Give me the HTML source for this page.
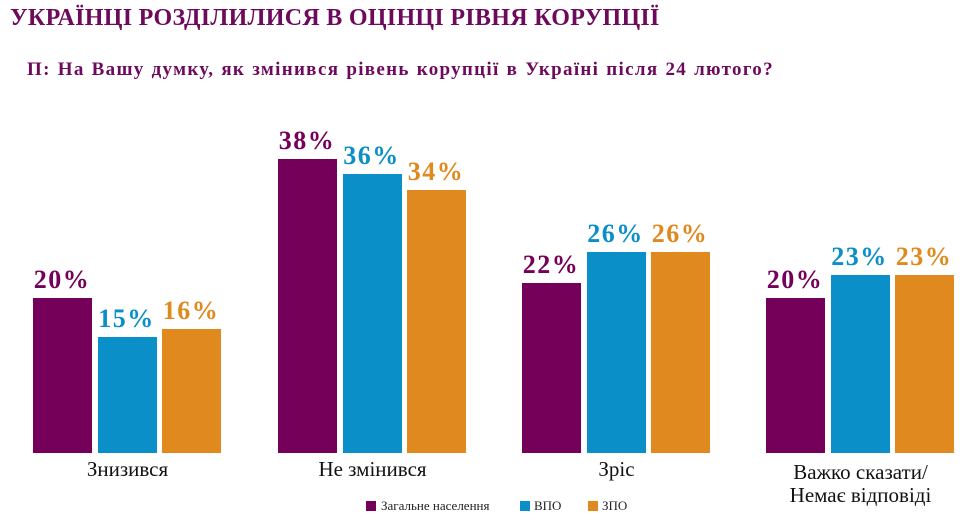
<!DOCTYPE html>
<html><head><meta charset="utf-8"><style>
body{margin:0;width:972px;height:528px;background:#fff;position:relative;overflow:hidden;font-family:"Liberation Serif",serif}
.t{position:absolute;white-space:nowrap}
.bar{position:absolute}
.p{position:absolute;font-weight:bold;font-size:26px;text-align:center;width:80px;margin-left:-11px;letter-spacing:1.5px}
.c{position:absolute;font-size:21px;text-align:center;color:#111}
.lg{position:absolute;top:501px;width:10px;height:10px}
.lt{position:absolute;top:498px;font-size:13px;color:#222}
</style></head><body>
<div class="t" style="left:10px;top:5px;font-size:24px;font-weight:bold;color:#6e0a5c;letter-spacing:0.3px">УКРАЇНЦІ РОЗДІЛИЛИСЯ В ОЦІНЦІ РІВНЯ КОРУПЦІЇ</div>
<div class="t" style="left:27px;top:59px;font-size:19px;font-weight:bold;color:#6e0a5c;letter-spacing:1.3px;word-spacing:1px">П: На Вашу думку, як змінився рівень корупції в Україні після 24 лютого?</div>
<div id="g"></div>
<script>
var cols=['#74005a','#0a8fc8','#e0891f'];
var data=[[33,[20,15,16]],[278,[38,36,34]],[522,[22,26,26]],[766,[20,23,23]]];
var h='';var base=453,k=7.75;
data.forEach(function(d){d[1].forEach(function(v,i){var x=d[0]+i*64.5,top=base-v*k;
h+='<div class="bar" style="left:'+x+'px;top:'+top+'px;width:59px;height:'+(base-top)+'px;background:'+cols[i]+'"></div>';
h+='<div class="p" style="left:'+x+'px;top:'+(top-33)+'px;color:'+cols[i]+'">'+v+'%</div>';});});
document.getElementById('g').innerHTML=h;
</script>
<div class="c" style="left:33px;width:189px;top:457px">Знизився</div>
<div class="c" style="left:278px;width:189px;top:457px">Не змінився</div>
<div class="c" style="left:522px;width:189px;top:457px">Зріс</div>
<div class="c" style="left:756px;width:209px;top:461px;line-height:23px">Важко сказати/<br>Немає відповіді</div>
<div class="lg" style="left:366px;background:#74005a"></div><div class="lt" style="left:381px">Загальне населення</div>
<div class="lg" style="left:520px;background:#0a8fc8"></div><div class="lt" style="left:534px">ВПО</div>
<div class="lg" style="left:588px;background:#e0891f"></div><div class="lt" style="left:602px">ЗПО</div>
</body></html>
